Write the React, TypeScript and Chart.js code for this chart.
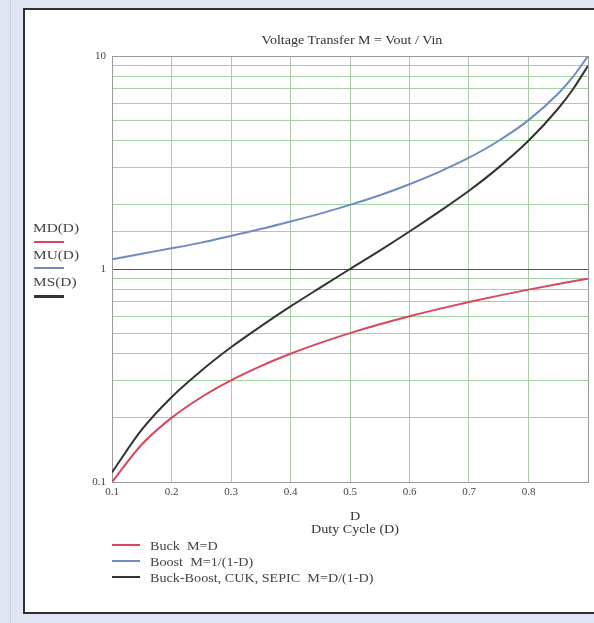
import React, { useEffect, useRef } from "react";
import { Chart, registerables } from "chart.js";

Chart.register(...registerables);

// ---- data ----
const dutyCycle = [0.1, 0.15, 0.2, 0.25, 0.3, 0.35, 0.4, 0.45, 0.5, 0.55, 0.6, 0.65, 0.7, 0.75, 0.8, 0.85, 0.875, 0.9];
const buckValues = [0.1, 0.15, 0.2, 0.25, 0.3, 0.35, 0.4, 0.45, 0.5, 0.55, 0.6, 0.65, 0.7, 0.75, 0.8, 0.85, 0.875, 0.9];
const boostValues = [1.11, 1.18, 1.25, 1.33, 1.43, 1.54, 1.67, 1.82, 2.0, 2.22, 2.5, 2.86, 3.33, 4.0, 5.0, 6.67, 8.0, 10.0];
const buckBoostValues = [0.111, 0.176, 0.25, 0.333, 0.429, 0.538, 0.667, 0.818, 1.0, 1.22, 1.5, 1.86, 2.33, 3.0, 4.0, 5.67, 7.0, 9.0];

const xTickLabels = ["0.1", "0.2", "0.3", "0.4", "0.5", "0.6", "0.7", "0.8"];
const yTickLabels = ["0.1", "1", "10"];

const seriesLabels = ["Buck  M=D", "Boost  M=1/(1-D)", "Buck-Boost, CUK, SEPIC  M=D/(1-D)"];
const sideLabels = ["MD(D)", "MU(D)", "MS(D)"];
const chartTitle = "Voltage Transfer M = Vout / Vin";
const xTitle = ["D", "Duty Cycle (D)"];

const RED = "#d8475c";
const BLUE = "#6f8cc2";
const BLACK = "#333333";
const colors = [RED, BLUE, BLACK];
const GREEN = "#9fd39f";
const FONT = "'Liberation Serif', 'Times New Roman', serif";

function toPoints(values: number[]) {
  return dutyCycle.map((d, i) => ({ x: d, y: values[i] }));
}

const textBase: React.CSSProperties = {
  position: "absolute",
  fontSize: 12,
  lineHeight: "14px",
  color: "#444",
  whiteSpace: "pre",
};

function App() {
  const canvasRef = useRef<HTMLCanvasElement | null>(null);

  useEffect(() => {
    const canvas = canvasRef.current;
    if (!canvas) return;
    const allValues = [buckValues, boostValues, buckBoostValues];
    const chart = new Chart(canvas, {
      type: "line",
      data: {
        datasets: allValues.map((vals, i) => ({
          label: seriesLabels[i],
          data: toPoints(vals),
          borderColor: colors[i],
          backgroundColor: colors[i],
          borderWidth: 2,
          pointRadius: 0,
          fill: false,
          cubicInterpolationMode: "monotone" as const,
        })),
      },
      options: {
        animation: false,
        responsive: false,
        maintainAspectRatio: false,
        layout: { padding: { left: 0, right: 1, top: 45, bottom: 0 } },
        plugins: {
          legend: { display: false },
          tooltip: { enabled: false },
          title: { display: false },
        },
        scales: {
          x: {
            type: "linear",
            min: 0.1,
            max: 0.9,
            ticks: {
              stepSize: 0.1,
              autoSkip: false,
              maxRotation: 0,
              padding: 4,
              color: "#444",
              font: { family: FONT, size: 11 },
              callback: (v: any) => {
                const s = Number(v).toFixed(1);
                return xTickLabels.includes(s) ? s : "";
              },
            },
            grid: {
              drawTicks: false,
              lineWidth: 1,
              color: (ctx: any) => {
                const v = ctx.tick ? ctx.tick.value : 0;
                if (Math.abs(v - 0.9) < 1e-6 || Math.abs(v - 0.1) < 1e-6) return "#9a9a9a";
                return "#a9cba9";
              },
            },
            border: { color: "#9a9a9a", width: 1 },
            afterFit: (s: any) => {
              s.height = 59;
            },
          },
          y: {
            type: "logarithmic",
            min: 0.1,
            max: 10,
            ticks: {
              autoSkip: false,
              padding: 6,
              color: "#444",
              font: { family: FONT, size: 11 },
              callback: (v: any) => {
                const n = Number(v);
                const found = yTickLabels.find((t) => Math.abs(Number(t) - n) < 1e-9);
                return found ? found : "";
              },
            },
            grid: {
              drawTicks: false,
              lineWidth: 1,
              color: (ctx: any) => {
                const v = ctx.tick ? ctx.tick.value : 0;
                if (Math.abs(v - 1) < 1e-9) return "#555";
                if (Math.abs(v - 10) < 1e-9 || Math.abs(v - 0.1) < 1e-9) return "#9a9a9a";
                return GREEN;
              },
            },
            border: { color: "#9a9a9a", width: 1 },
            afterFit: (s: any) => {
              s.width = 86;
            },
          },
        },
      },
    });
    return () => chart.destroy();
  }, []);

  const sideTops = [221, 248, 275];
  const sideLineTops = [241, 267, 295];
  const legendCenters = [546, 562, 578];

  return (
    <div
      style={{
        position: "fixed",
        left: 0,
        top: 0,
        width: 594,
        height: 623,
        background: "#dfe5f3",
        overflow: "hidden",
        fontFamily: FONT,
      }}
    >
      <div style={{ position: "absolute", left: 10, top: 0, width: 1, height: 623, background: "#c5cde0" }} />
      <div
        style={{
          position: "absolute",
          left: 23,
          top: 8,
          width: 600,
          height: 606,
          background: "#ffffff",
          border: "2px solid #2f2f2f",
          boxSizing: "border-box",
        }}
      />
      <canvas
        ref={canvasRef}
        width={566}
        height={530}
        style={{ position: "absolute", left: 26, top: 11, width: 566, height: 530, display: "block" }}
      />
      <div
        style={{
          ...textBase,
          left: 352,
          top: 33,
          color: "#333",
          transform: "translateX(-50%) scaleX(1.17)",
        }}
      >
        {chartTitle}
      </div>
      {xTitle.map((t, i) => (
        <div
          key={t}
          style={{
            ...textBase,
            left: 355,
            top: 509 + i * 13,
            color: "#333",
            transform: "translateX(-50%) scaleX(1.18)",
          }}
        >
          {t}
        </div>
      ))}
      {sideLabels.map((t, i) => (
        <React.Fragment key={t}>
          <div
            style={{
              ...textBase,
              left: 33,
              top: sideTops[i],
              transformOrigin: "left center",
              transform: "scaleX(1.28)",
            }}
          >
            {t}
          </div>
          <div
            style={{
              position: "absolute",
              left: 34,
              top: sideLineTops[i],
              width: 30,
              height: i === 2 ? 3 : 2,
              background: colors[i],
            }}
          />
        </React.Fragment>
      ))}
      {seriesLabels.map((t, i) => (
        <React.Fragment key={t}>
          <div
            style={{
              position: "absolute",
              left: 112,
              top: legendCenters[i] - 2,
              width: 28,
              height: 2,
              background: colors[i],
            }}
          />
          <div
            style={{
              ...textBase,
              left: 150,
              top: legendCenters[i] - 7,
              transformOrigin: "left center",
              transform: "scaleX(1.18)",
            }}
          >
            {t}
          </div>
        </React.Fragment>
      ))}
    </div>
  );
}

export default App;
